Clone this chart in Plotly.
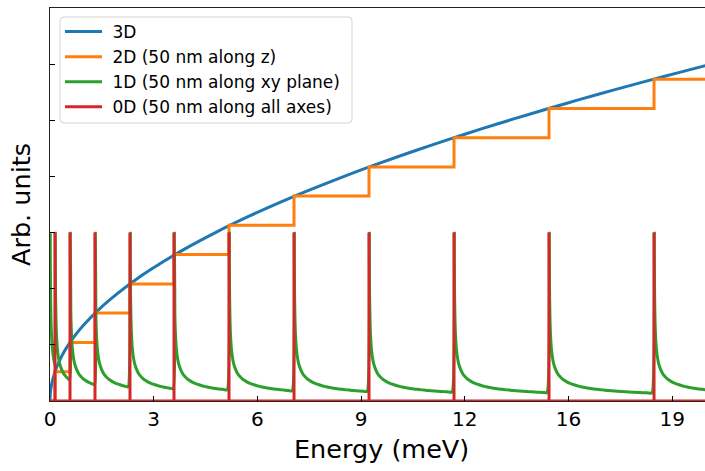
import plotly.graph_objects as go

# ---------------- data ----------------
# subband onset energies (meV) where 2D steps / 0D peaks / 1D edges occur
subband_E = [0.151, 0.603, 1.356, 2.411, 3.737, 5.395, 7.354, 9.614, 12.176, 15.039, 18.204]
# 2D staircase levels (arb. units) after each onset
dos2d_levels = [0.521, 1.044, 1.566, 2.082, 2.610, 3.132, 3.653, 4.169, 4.691, 5.208, 5.730]
# 0D peak height (arb. units)
dos0d_peak = 3.0
# 1D band edges (meV): first edge at zero energy
onsets_1d = [0.0, 0.151, 0.603, 1.356, 2.411, 3.737, 5.395, 7.354, 9.614, 12.176, 15.039, 18.204]
# 1D decay after an edge: offset from the edge (meV) and value (arb. units)
decay_offset = [0.007, 0.01, 0.015, 0.02, 0.03, 0.04, 0.05, 0.07, 0.1, 0.13, 0.15,
                0.2, 0.25, 0.3, 0.35, 0.4, 0.45, 0.5, 0.55, 0.6, 0.65, 0.7, 0.75, 0.8,
                0.85, 0.9, 0.95, 1.0, 1.1, 1.2, 1.3, 1.4, 1.5, 1.6, 1.7, 1.8, 1.9, 2.0,
                2.1, 2.2, 2.3, 2.4, 2.5, 2.6, 2.7, 2.8, 2.9, 3.0, 3.1]
decay_value = [2.99, 2.50, 2.04, 1.77, 1.44, 1.25, 1.12, 0.94, 0.79, 0.69, 0.645,
               0.56, 0.50, 0.456, 0.423, 0.395, 0.373, 0.354, 0.337, 0.323, 0.310, 0.299, 0.289, 0.280,
               0.271, 0.264, 0.256, 0.250, 0.238, 0.228, 0.219, 0.211, 0.204, 0.198, 0.192, 0.186, 0.181, 0.177,
               0.173, 0.169, 0.165, 0.161, 0.158, 0.155, 0.152, 0.149, 0.147, 0.144, 0.142]
# 3D curve samples
energy_3d = [0, 0.01, 0.02, 0.05, 0.1, 0.2, 0.35, 0.5, 0.75, 1.0, 1.5, 2, 2.5, 3, 4, 5, 6, 7,
             8, 9, 10, 11, 12, 13, 14, 15, 16, 17, 18, 19, 20]
dos3d = [0, 0.134, 0.19, 0.30, 0.425, 0.60, 0.795, 0.95, 1.164, 1.344, 1.646, 1.90, 2.125, 2.328,
         2.688, 3.005, 3.292, 3.556, 3.801, 4.032, 4.25, 4.458, 4.656, 4.846, 5.029, 5.205, 5.376,
         5.541, 5.702, 5.858, 6.011]
energy_end = 20.0

x_tickvals = [0, 3.125, 6.25, 9.375, 12.5, 15.625, 18.75]
x_ticktext = ["0", "3", "6", "9", "12", "16", "19"]
y_tickvals = [0, 1, 2, 3, 4, 5, 6, 7]

names = ["3D", "2D (50 nm along z)", "1D (50 nm along xy plane)", "0D (50 nm along all axes)"]
colors = ["#1f77b4", "#ff7f0e", "#2ca02c", "#d62728"]

# ---------------- build traces ----------------
x2d = [0.0] + subband_E + [energy_end]
y2d = [0.0] + dos2d_levels + [dos2d_levels[-1]]

x1d, y1d = [], []
for k, start in enumerate(onsets_1d):
    end = onsets_1d[k + 1] if k + 1 < len(onsets_1d) else energy_end
    for off, val in zip(decay_offset, decay_value):
        if start + off < end:
            x1d.append(start + off)
            y1d.append(val)

x0d, y0d = [0.0], [0.0]
for e in subband_E:
    x0d += [e, e, e]
    y0d += [0.0, dos0d_peak, 0.0]
x0d.append(energy_end)
y0d.append(0.0)

NB = "\u00a0"  # small gap between legend line sample and text
LW = 3
fig = go.Figure()
fig.add_trace(go.Scatter(x=energy_3d, y=dos3d, mode="lines", name=NB + names[0],
                         line=dict(color=colors[0], width=LW, shape="spline", smoothing=0.6)))
fig.add_trace(go.Scatter(x=x2d, y=y2d, mode="lines", name=NB + names[1],
                         line=dict(color=colors[1], width=LW, shape="hv")))
fig.add_trace(go.Scatter(x=x1d, y=y1d, mode="lines", name=NB + names[2],
                         line=dict(color=colors[2], width=LW, shape="spline", smoothing=0.5)))
fig.add_trace(go.Scatter(x=x0d, y=y0d, mode="lines", name=NB + names[3],
                         line=dict(color=colors[3], width=LW)))

# ---------------- layout ----------------
W, H = 705, 471
ML, MR, MT, MB = 50, 0, 8, 70
PW, PH = W - ML - MR, H - MT - MB


def px2paper(px, py):
    return (px - ML) / PW, (H - MB - py) / PH


FONT = "DejaVu Sans"

# legend frame (rounded rectangle)
lx0, ly0 = px2paper(60, 17)
lx1, ly1 = px2paper(352, 123)
rx, ry = 4 / PW, 4 / PH
path = (f"M{lx0+rx},{ly0} L{lx1-rx},{ly0} Q{lx1},{ly0} {lx1},{ly0-ry} "
        f"L{lx1},{ly1+ry} Q{lx1},{ly1} {lx1-rx},{ly1} L{lx0+rx},{ly1} "
        f"Q{lx0},{ly1} {lx0},{ly1+ry} L{lx0},{ly0-ry} Q{lx0},{ly0} {lx0+rx},{ly0} Z")

leg_x, leg_y = px2paper(60, 14)
xt_x, xt_y = px2paper(381, 449)
yt_x, yt_y = px2paper(21, 205)

fig.update_layout(
    width=W, height=H,
    margin=dict(l=ML, r=MR, t=MT, b=MB),
    paper_bgcolor="white", plot_bgcolor="white",
    font=dict(family=FONT, color="black"),
    showlegend=True,
    legend=dict(x=leg_x, y=leg_y, xanchor="left", yanchor="top",
                bgcolor="rgba(0,0,0,0)", borderwidth=0,
                font=dict(size=17, family=FONT, color="black"),
                itemwidth=37, tracegroupgap=0),
    shapes=[dict(type="path", path=path, xref="paper", yref="paper",
                 fillcolor="rgba(255,255,255,0.8)",
                 line=dict(color="#d5d5d5", width=1), layer="above")],
    annotations=[
        dict(text="Energy (meV)", x=xt_x, y=xt_y, xref="paper", yref="paper",
             xanchor="center", yanchor="middle", showarrow=False,
             font=dict(size=25.5, family=FONT, color="black")),
        dict(text="Arb. units", x=yt_x, y=yt_y, xref="paper", yref="paper",
             xanchor="center", yanchor="middle", showarrow=False, textangle=-90,
             font=dict(size=25.5, family=FONT, color="black")),
    ],
)

fig.update_xaxes(range=[0, 19.74], tickvals=x_tickvals, ticktext=x_ticktext,
                 ticks="inside", ticklen=5, tickwidth=1.3, tickcolor="black",
                 showline=True, linecolor="#222222", linewidth=1.4, mirror=True,
                 showgrid=False, zeroline=False,
                 tickfont=dict(size=20, family=FONT, color="black"))
fig.update_yaxes(range=[0, 7], tickvals=y_tickvals, showticklabels=False,
                 ticks="inside", ticklen=5, tickwidth=1.3, tickcolor="black",
                 showline=True, linecolor="#222222", linewidth=1.4, mirror=False,
                 showgrid=False, zeroline=False)

fig.write_html("out.html")
